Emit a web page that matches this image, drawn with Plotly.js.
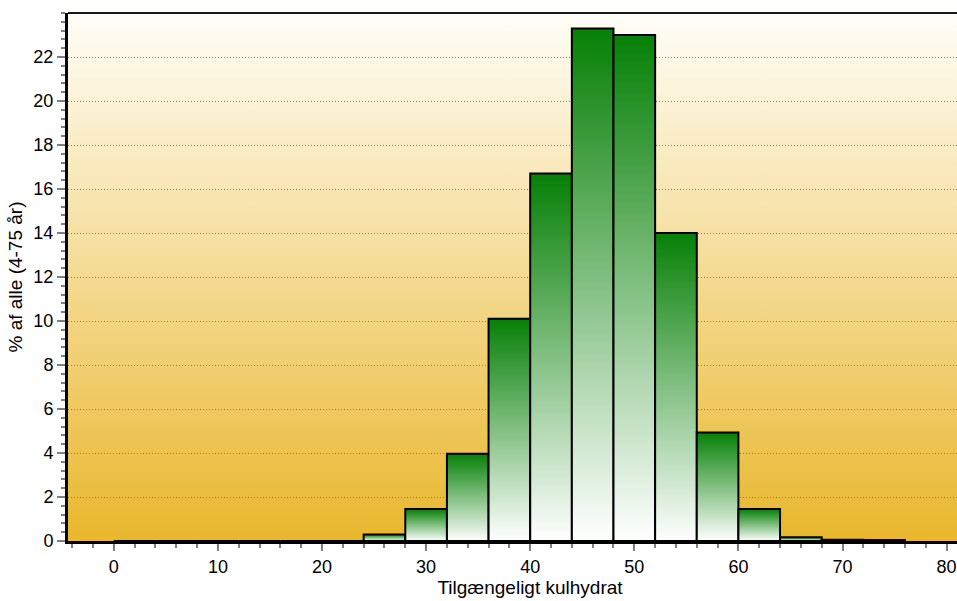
<!DOCTYPE html>
<html>
<head>
<meta charset="utf-8">
<script src="https://cdn.plot.ly/plotly-3.0.1.min.js"></script>
<style>
  html, body { margin: 0; padding: 0; overflow: hidden; background: #ffffff; }
  #chart { width: 1000px; height: 601px; }
</style>
</head>
<body>
<div id="chart"></div>
<script>
// Histogram of available carbohydrate (energy %), share of all persons aged 4-75
const binCenters = [2, 6, 10, 14, 18, 22, 26, 30, 34, 38, 42, 46, 50, 54, 58, 62, 66, 70, 74];
const sharePct   = [0, 0, 0, 0, 0, 0, 0.3, 1.45, 3.97, 10.1, 16.7, 23.3, 23.0, 14.0, 4.93, 1.45, 0.17, 0.06, 0.05];
const binWidth = 4;
const yTickVals = [0, 2, 4, 6, 8, 10, 12, 14, 16, 18, 20, 22];
const xTickVals = [0, 10, 20, 30, 40, 50, 60, 70, 80];

const FONT = 'Liberation Sans, Arial, sans-serif';
const barGreen = 'rgb(6,128,6)';

// One filled outline per bin so that every bar gets its own white-to-green vertical gradient
const traces = binCenters.map((c, i) => {
  const v = sharePct[i];
  const x0 = c - binWidth / 2, x1 = c + binWidth / 2;
  return {
    type: 'scatter',
    mode: 'lines',
    x: [x0, x0, x1, x1, x0],
    y: [0, v, v, 0, 0],
    fill: 'toself',
    fillgradient: {
      type: 'vertical',
      colorscale: [[0, '#ffffff'], [1, barGreen]]
    },
    line: { color: '#000000', width: 2 },
    hoveron: 'fills',
    text: c + ': ' + v + ' %',
    hoverinfo: 'text',
    showlegend: false
  };
});

// Warm vertical gradient behind the plotting area
const bgSvg = '<svg xmlns="http://www.w3.org/2000/svg" width="10" height="100" preserveAspectRatio="none">' +
  '<defs><linearGradient id="g" x1="0" y1="0" x2="0" y2="1">' +
  '<stop offset="0" stop-color="#fffef8"/><stop offset="1" stop-color="#e9b72d"/>' +
  '</linearGradient></defs><rect width="10" height="100" fill="url(#g)"/></svg>';

const layout = {
  width: 1000,
  height: 601,
  margin: { l: 68, r: 8, t: 13, b: 60 },
  paper_bgcolor: 'rgba(0,0,0,0)',
  plot_bgcolor: 'rgba(0,0,0,0)',
  font: { family: FONT, size: 18, color: '#000000' },
  showlegend: false,
  images: [{
    source: 'data:image/svg+xml;charset=utf-8,' + encodeURIComponent(bgSvg),
    xref: 'paper', yref: 'paper',
    x: 0, y: 1, sizex: 1, sizey: 1,
    xanchor: 'left', yanchor: 'top',
    sizing: 'stretch',
    layer: 'below'
  }],
  xaxis: {
    range: [-4.4, 84.36],
    tickmode: 'array',
    tickvals: xTickVals,
    ticks: 'outside',
    ticklen: 7,
    tickwidth: 1.5,
    tickcolor: '#808080',
    minor: { dtick: 2, tick0: 0, ticks: 'outside', ticklen: 4, tickwidth: 1.5, tickcolor: '#808080', showgrid: false },
    showgrid: false,
    zeroline: false,
    showline: true,
    linecolor: '#000000',
    linewidth: 3,
    tickfont: { family: FONT, size: 18, color: '#000000' },
    title: { text: 'Tilgængeligt kulhydrat', font: { family: FONT, size: 19, color: '#000000' }, standoff: 3 }
  },
  yaxis: {
    range: [0, 24],
    tickmode: 'array',
    tickvals: yTickVals,
    ticks: 'outside',
    ticklen: 8,
    tickwidth: 1.5,
    tickcolor: '#808080',
    minor: { dtick: 0.4, tick0: 0, ticks: 'outside', ticklen: 4, tickwidth: 1.5, tickcolor: '#808080', showgrid: false },
    showgrid: true,
    gridcolor: '#7f7f7f',
    gridwidth: 1,
    griddash: '1px,2px',
    zeroline: false,
    showline: true,
    linecolor: '#000000',
    linewidth: 3,
    tickfont: { family: FONT, size: 18, color: '#000000' },
    title: { text: '% af alle (4-75 år)', font: { family: FONT, size: 19, color: '#000000' }, standoff: 6 }
  },
  shapes: [{
    type: 'line', xref: 'paper', yref: 'paper',
    x0: 0, x1: 1, y0: 1, y1: 1,
    line: { color: '#1a1a1a', width: 2 }
  }]
};

Plotly.newPlot('chart', traces, layout, { displayModeBar: false, staticPlot: false });
</script>
</body>
</html>
